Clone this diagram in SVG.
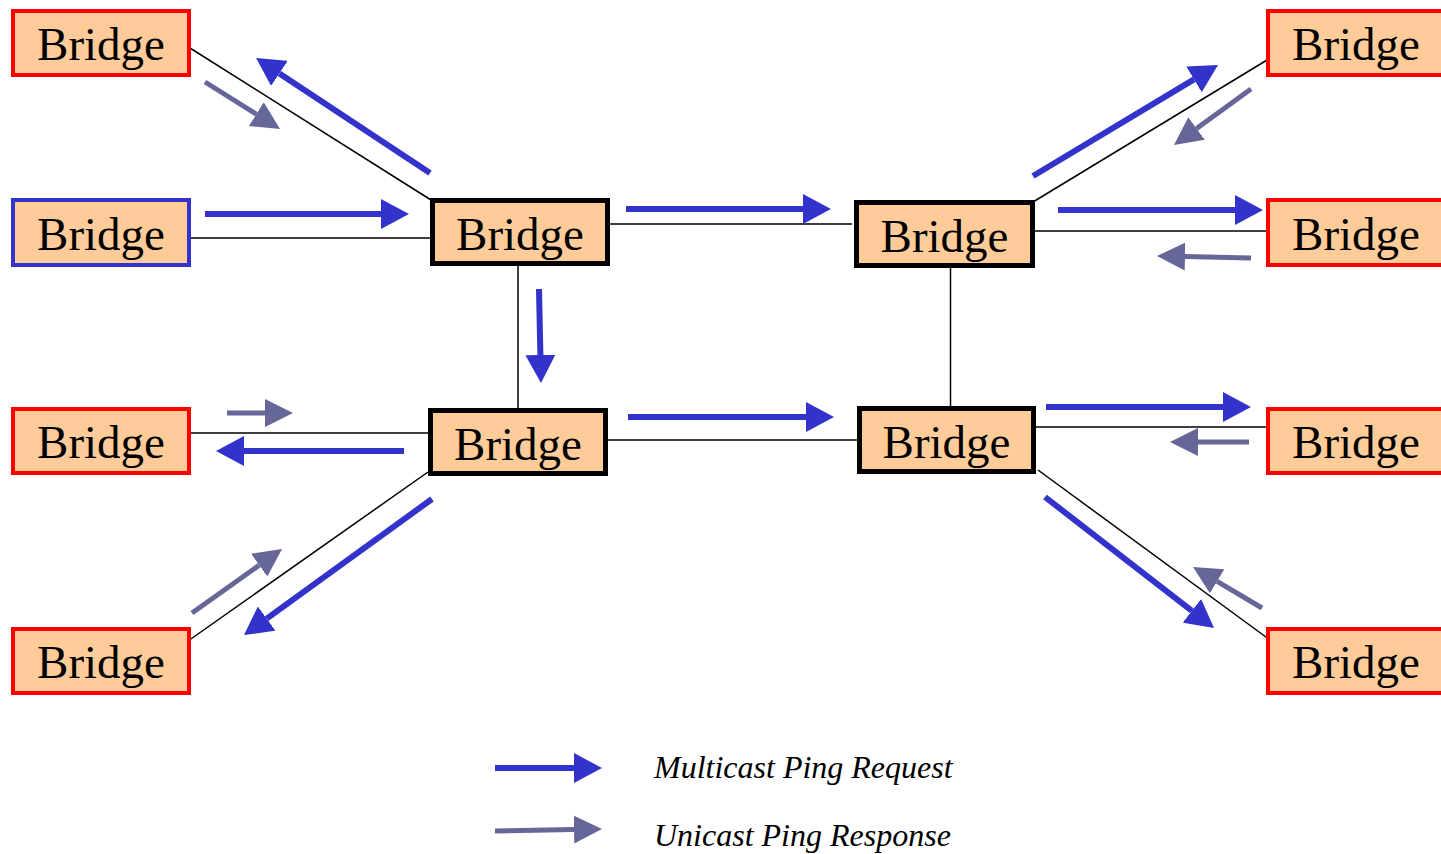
<svg xmlns="http://www.w3.org/2000/svg" width="1441" height="854" viewBox="0 0 1441 854">
  <style>
    .node rect { fill: #FFCC99; }
    .edge { stroke: #FF0000; stroke-width: 4; }
    .root { stroke: #3333CC; stroke-width: 4; }
    .core { stroke: #000000; stroke-width: 5; }
    .label { font-family: "Liberation Serif", "Times New Roman", serif; font-size: 47px; fill: #000; text-anchor: middle; }
    .link { stroke: #000; stroke-width: 1.5; fill: none; }
    .req { stroke: #3333CC; stroke-width: 6; fill: none; marker-end: url(#headReq); }
    .resp { stroke: #666699; stroke-width: 5; fill: none; marker-end: url(#headResp); }
    .legend { font-family: "Liberation Serif", "Times New Roman", serif; font-style: italic; font-size: 32px; fill: #000; }
  </style>
  <defs>
    <marker id="headReq" markerUnits="userSpaceOnUse" markerWidth="28" markerHeight="30" viewBox="0 0 28 30" refX="0" refY="15" orient="auto">
      <path d="M0,0 L28,15 L0,30 z" fill="#3333CC"/>
    </marker>
    <marker id="headResp" markerUnits="userSpaceOnUse" markerWidth="28" markerHeight="28" viewBox="0 0 28 28" refX="0" refY="14" orient="auto">
      <path d="M0,0 L28,14 L0,28 z" fill="#666699"/>
    </marker>
  </defs>

  <!-- physical links -->
  <g id="links">
    <line class="link" x1="190" y1="48" x2="431" y2="200"/>
    <line class="link" x1="188" y1="238" x2="430" y2="238"/>
    <line class="link" x1="600" y1="224" x2="852" y2="224"/>
    <line class="link" x1="518" y1="266" x2="518" y2="408"/>
    <line class="link" x1="950.5" y1="268" x2="950.5" y2="406"/>
    <line class="link" x1="608" y1="440" x2="857" y2="440"/>
    <line class="link" x1="188" y1="433" x2="428" y2="433"/>
    <line class="link" x1="188" y1="641" x2="428" y2="472"/>
    <line class="link" x1="1033" y1="202" x2="1272" y2="57"/>
    <line class="link" x1="1035" y1="231" x2="1270" y2="231"/>
    <line class="link" x1="1036" y1="427" x2="1272" y2="427"/>
    <line class="link" x1="1038" y1="470" x2="1270" y2="640"/>
  </g>

  <!-- bridges -->
  <g id="bridge-left-1" class="node">
    <rect class="edge" x="13" y="11" width="176" height="64"/>
    <text class="label" x="101" y="60">Bridge</text>
  </g>
  <g id="bridge-left-2" class="node">
    <rect class="root" x="13" y="200" width="176" height="65"/>
    <text class="label" x="101" y="250">Bridge</text>
  </g>
  <g id="bridge-left-3" class="node">
    <rect class="edge" x="13" y="409" width="176" height="64"/>
    <text class="label" x="101" y="458">Bridge</text>
  </g>
  <g id="bridge-left-4" class="node">
    <rect class="edge" x="13" y="629" width="176" height="64"/>
    <text class="label" x="101" y="678">Bridge</text>
  </g>

  <g id="bridge-core-tl" class="node">
    <rect class="core" x="432.5" y="200.5" width="175" height="63"/>
    <text class="label" x="520" y="250">Bridge</text>
  </g>
  <g id="bridge-core-tr" class="node">
    <rect class="core" x="856.5" y="202.5" width="176" height="63"/>
    <text class="label" x="944.5" y="252">Bridge</text>
  </g>
  <g id="bridge-core-bl" class="node">
    <rect class="core" x="430.5" y="410.5" width="175" height="63"/>
    <text class="label" x="518" y="460">Bridge</text>
  </g>
  <g id="bridge-core-br" class="node">
    <rect class="core" x="859.5" y="408.5" width="174" height="63"/>
    <text class="label" x="946.5" y="458">Bridge</text>
  </g>

  <g id="bridge-right-1" class="node">
    <rect class="edge" x="1268" y="11" width="176" height="64"/>
    <text class="label" x="1356" y="60">Bridge</text>
  </g>
  <g id="bridge-right-2" class="node">
    <rect class="edge" x="1268" y="200" width="176" height="65"/>
    <text class="label" x="1356" y="250">Bridge</text>
  </g>
  <g id="bridge-right-3" class="node">
    <rect class="edge" x="1268" y="409" width="176" height="64"/>
    <text class="label" x="1356" y="458">Bridge</text>
  </g>
  <g id="bridge-right-4" class="node">
    <rect class="edge" x="1268" y="629" width="176" height="64"/>
    <text class="label" x="1356" y="678">Bridge</text>
  </g>

  <!-- multicast ping requests -->
  <g id="requests">
    <line class="req" x1="430" y1="173" x2="279.4" y2="73.4"/>
    <line class="req" x1="205" y1="214" x2="381" y2="214"/>
    <line class="req" x1="626" y1="209" x2="803" y2="209"/>
    <line class="req" x1="539" y1="289" x2="540.4" y2="355"/>
    <line class="req" x1="628" y1="417" x2="806" y2="417"/>
    <line class="req" x1="404" y1="451" x2="244" y2="451"/>
    <line class="req" x1="432" y1="499" x2="266.7" y2="618.6"/>
    <line class="req" x1="1033" y1="176" x2="1194" y2="79.4"/>
    <line class="req" x1="1058" y1="210" x2="1235" y2="210"/>
    <line class="req" x1="1046" y1="407" x2="1223" y2="407"/>
    <line class="req" x1="1045" y1="497" x2="1191.9" y2="610.8"/>
  </g>

  <!-- unicast ping responses -->
  <g id="responses">
    <line class="resp" x1="205" y1="82" x2="256.3" y2="114.1"/>
    <line class="resp" x1="227" y1="413" x2="265" y2="413"/>
    <line class="resp" x1="192" y1="613" x2="259.2" y2="565.2"/>
    <line class="resp" x1="1251" y1="89" x2="1196.6" y2="128.5"/>
    <line class="resp" x1="1251" y1="258" x2="1185" y2="256.6"/>
    <line class="resp" x1="1249" y1="442" x2="1198" y2="442"/>
    <line class="resp" x1="1262" y1="608" x2="1217.1" y2="581.3"/>
  </g>

  <!-- legend -->
  <g id="legend">
    <line class="req" x1="495" y1="768" x2="574" y2="768"/>
    <text class="legend" x="654" y="778">Multicast Ping Request</text>
    <line class="resp" x1="495" y1="831" x2="574" y2="829.5"/>
    <text class="legend" x="654" y="846">Unicast Ping Response</text>
  </g>
</svg>
